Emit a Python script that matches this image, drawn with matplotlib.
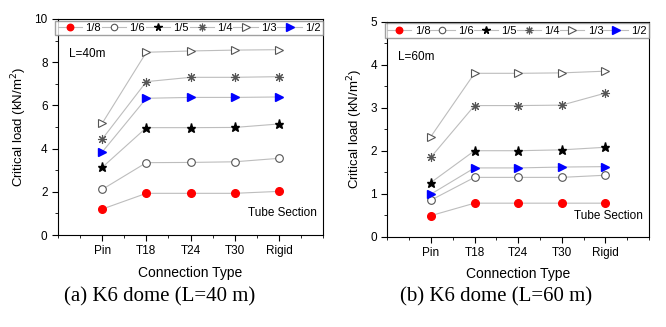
import matplotlib
matplotlib.use('Agg')
import matplotlib.pyplot as plt
from matplotlib.ticker import MultipleLocator

# connection types on the x axis
connections = ['Pin', 'T18', 'T24', 'T30', 'Rigid']
ratios = ['1/8', '1/6', '1/5', '1/4', '1/3', '1/2']

# critical load (kN/m2), L=40m
load_40 = {
    '1/8': [1.20, 1.93, 1.93, 1.93, 2.02],
    '1/6': [2.11, 3.35, 3.36, 3.39, 3.55],
    '1/5': [3.13, 4.97, 4.97, 4.98, 5.14],
    '1/4': [4.44, 7.10, 7.30, 7.30, 7.33],
    '1/3': [5.17, 8.46, 8.52, 8.56, 8.58],
    '1/2': [3.84, 6.33, 6.37, 6.37, 6.39],
}

# critical load (kN/m2), L=60m
load_60 = {
    '1/8': [0.49, 0.78, 0.78, 0.78, 0.78],
    '1/6': [0.85, 1.38, 1.38, 1.38, 1.43],
    '1/5': [1.26, 2.00, 2.00, 2.02, 2.08],
    '1/4': [1.85, 3.05, 3.05, 3.06, 3.34],
    '1/3': [2.33, 3.80, 3.80, 3.81, 3.85],
    '1/2': [0.99, 1.60, 1.60, 1.62, 1.63],
}

# marker styles per rise/span ratio
styles = {
    '1/8': dict(marker='o', mfc='red', mec='red', ms=5.5),
    '1/6': dict(marker='o', mfc='white', mec='#555555', ms=5.5, mew=0.8),
    '1/5': dict(marker='*', mfc='black', mec='black', ms=6.5),
    '1/4': dict(marker=(8, 2, 0), mfc='#555555', mec='#555555', ms=6.5, mew=0.8),
    '1/3': dict(marker='>', mfc='white', mec='#555555', ms=6, mew=0.8),
    '1/2': dict(marker='>', mfc='blue', mec='blue', ms=6),
}

plt.rcParams['font.family'] = ['Liberation Sans', 'DejaVu Sans']

fig = plt.figure(figsize=(6.66, 3.27), dpi=100)
ax1 = fig.add_axes([0.0871, 0.2813, 0.398, 0.6606])
ax2 = fig.add_axes([0.5815, 0.2761, 0.393, 0.6575])

panels = [
    (ax1, load_40, 10, 2, 'L=40m', 0.838, 0.10, '(a) K6 dome (L=40 m)', 0.24),
    (ax2, load_60, 5, 1, 'L=60m', 0.834, 0.098, '(b) K6 dome (L=60 m)', 0.745),
]

xpos = list(range(1, len(connections) + 1))
for ax, data, ymax, ystep, ltxt, ly, ty, cap, capx in panels:
    for r in ratios:
        ax.plot(xpos, data[r], color='#bdbdbd', lw=0.8, label=r, **styles[r])
    ax.set_xlim(0, 6)
    ax.set_ylim(0, ymax)
    ax.set_xticks(xpos)
    ax.set_xticklabels(connections)
    ax.xaxis.set_minor_locator(MultipleLocator(0.5))
    ax.yaxis.set_major_locator(MultipleLocator(ystep))
    ax.yaxis.set_minor_locator(MultipleLocator(ystep / 2))
    ax.tick_params(which='both', direction='out', labelsize=8.5, top=False, right=False)
    ax.tick_params(which='major', length=4)
    ax.tick_params(which='minor', length=2)
    ax.set_xlabel('Connection Type', fontsize=10, labelpad=6)
    ax.set_ylabel('Critical load (kN/m$^2$)', fontsize=9.5, labelpad=4)
    ax.text(0.04, ly, ltxt, transform=ax.transAxes, fontsize=8.5, va='center')
    ax.text(0.977, ty, 'Tube Section', transform=ax.transAxes, fontsize=8.5,
            va='center', ha='right')
    ax.legend(loc='lower left', bbox_to_anchor=(-0.01, 0.925, 1.01, 0.075), mode='expand',
              ncol=6, fontsize=8, frameon=True, fancybox=False, edgecolor='#888888',
              handlelength=2.2, handletextpad=0.3, columnspacing=0.3, borderpad=0.2,
              borderaxespad=0, markerscale=0.85)
    fig.text(capx, 0.092, cap, ha='center', va='center', fontsize=15,
             family='Liberation Serif')

fig.savefig('out.png', dpi=100)
